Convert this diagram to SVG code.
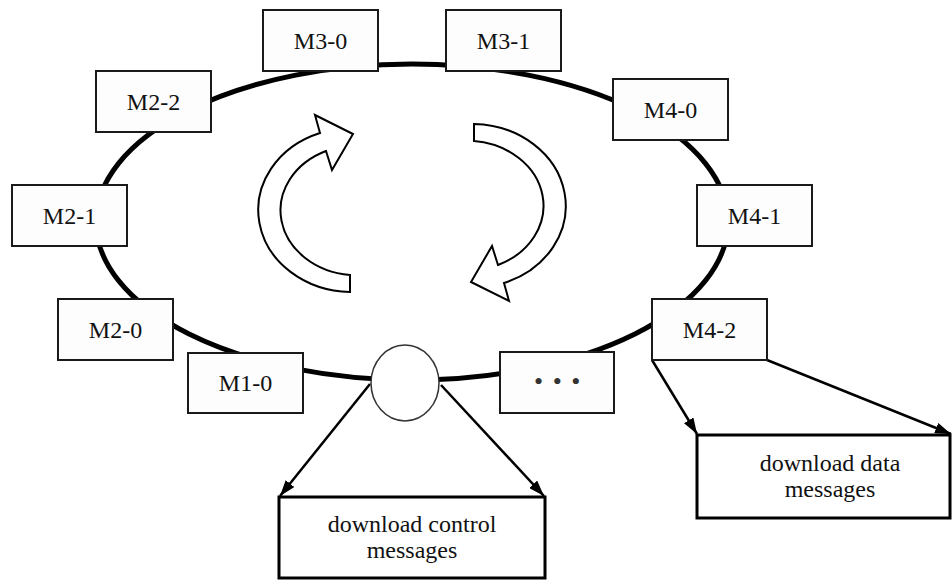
<svg xmlns="http://www.w3.org/2000/svg" width="952" height="581" viewBox="0 0 952 581">
  <style>
    .box { fill: #fdfdfd; stroke: #1a1a1a; stroke-width: 2; }
    .big { fill: #ffffff; stroke: #000; stroke-width: 3; }
    .lbl { font-family: "Liberation Serif", "Times New Roman", serif; font-size: 24px; fill: #111; text-anchor: middle; }
    .conn { stroke: #000; stroke-width: 2.5; fill: none; marker-end: url(#ah); }
    .rot { fill: #fff; stroke: #000; stroke-width: 2; stroke-linejoin: miter; }
  </style>
  <defs>
    <marker id="ah" markerUnits="userSpaceOnUse" markerWidth="17" markerHeight="11" refX="16" refY="5.5" orient="auto">
      <path d="M0,0 L16,5.5 L0,11 Z" fill="#000"/>
    </marker>
    <path id="curl" d="M350,292 A94,82 0 0 1 320,133 L315,115 L353,134 L332,170 L326,151 A77,65 0 0 0 350,275 Z"/>
  </defs>
  <rect width="952" height="581" fill="#fff"/>

  <g id="ring">
    <ellipse cx="412" cy="222" rx="316" ry="158" fill="none" stroke="#000" stroke-width="5"/>
  </g>

  <g id="rotation">
    <use href="#curl" class="rot"/>
    <use href="#curl" class="rot" transform="rotate(180 412 208)"/>
  </g>

  <g id="connectors">
    <line class="conn" x1="370" y1="384" x2="280" y2="496"/>
    <line class="conn" x1="441" y1="385" x2="544" y2="496"/>
    <line class="conn" x1="652" y1="360" x2="697" y2="434"/>
    <line class="conn" x1="767" y1="360" x2="951" y2="434"/>
  </g>

  <g id="M3-0"><rect class="box" x="263" y="10" width="115" height="61"/><text class="lbl" x="320.5" y="49">M3-0</text></g>
  <g id="M3-1"><rect class="box" x="446" y="10" width="115" height="61"/><text class="lbl" x="503.5" y="49">M3-1</text></g>
  <g id="M2-2"><rect class="box" x="96" y="71" width="115" height="61"/><text class="lbl" x="153.5" y="110">M2-2</text></g>
  <g id="M4-0"><rect class="box" x="613" y="79" width="115" height="61"/><text class="lbl" x="670.5" y="118">M4-0</text></g>
  <g id="M2-1"><rect class="box" x="12" y="185" width="115" height="61"/><text class="lbl" x="69.5" y="224">M2-1</text></g>
  <g id="M4-1"><rect class="box" x="697" y="185" width="115" height="61"/><text class="lbl" x="754.5" y="224">M4-1</text></g>
  <g id="M2-0"><rect class="box" x="58" y="299" width="115" height="61"/><text class="lbl" x="115.5" y="338">M2-0</text></g>
  <g id="M4-2"><rect class="box" x="652" y="299" width="115" height="61"/><text class="lbl" x="709.5" y="338">M4-2</text></g>
  <g id="M1-0"><rect class="box" x="188" y="353" width="115" height="60"/><text class="lbl" x="245.5" y="391">M1-0</text></g>
  <g id="more"><rect class="box" x="500" y="352" width="114" height="61"/><text x="558" y="390" font-family="Liberation Serif, serif" font-size="26" fill="#333" text-anchor="middle" letter-spacing="1.5">• • •</text></g>

  <g id="hub"><ellipse cx="405" cy="383" rx="34" ry="38" fill="#fff" stroke="#333" stroke-width="1.5"/></g>

  <g id="control"><rect class="big" x="279" y="497" width="266" height="81"/><text class="lbl" x="412" y="532">download control</text><text class="lbl" x="412" y="558">messages</text></g>
  <g id="data"><rect class="big" x="697" y="435" width="253" height="83"/><text class="lbl" x="830" y="471">download data</text><text class="lbl" x="830" y="497">messages</text></g>
</svg>
